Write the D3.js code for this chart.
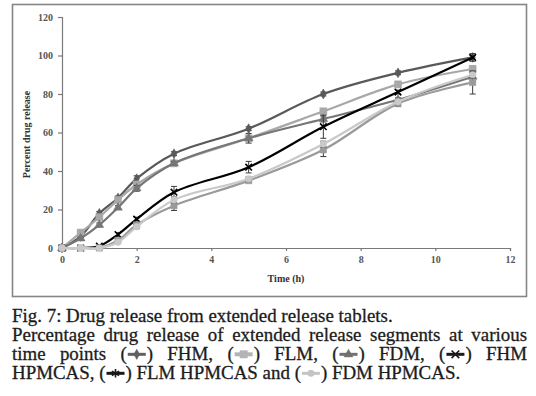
<!DOCTYPE html>
<html>
<head>
<meta charset="utf-8">
<script src="https://cdn.jsdelivr.net/npm/d3@7"></script>
<style>
  html, body { margin: 0; padding: 0; background: #fff; }
  svg { display: block; }
</style>
</head>
<body>
<svg id="chart" width="536" height="396"></svg>
<script>
// ---- data ----
const TIME = [0, 0.5, 1, 1.5, 2, 3, 5, 7, 9, 11];

const FHM        = [0, 6, 18, 26, 36, 49, 62, 80, 91, 99];
const FLM        = [0, 8, 16, 25, 33, 44, 57, 71, 85, 93];
const FDM        = [0, 5, 12, 21, 31, 44, 57, 67, 77, 89];
const FHM_HPMCAS = [0, 0, 1, 7, 15, 29, 42, 63, 81, 99];
const FLM_HPMCAS = [0, 0, 0, 4, 12, 22, 35, 51, 75, 86];
const FDM_HPMCAS = [0, 0, 0, 3, 11, 25, 36, 54, 76, 90];

const FHM_ERR        = [0, 0.5, 1, 1, 1.5, 1, 1, 1, 1, 1];
const FLM_ERR        = [0, 0.5, 1, 1, 1.5, 1, 1, 1, 1, 1.5];
const FDM_ERR        = [0, 0.5, 1, 1, 1.5, 1, 2.5, 1.5, 1, 2];
const FHM_HPMCAS_ERR = [0, 0, 0.5, 1, 1, 3, 3, 6, 1, 2];
const FLM_HPMCAS_ERR = [0, 0, 0, 0.5, 1, 2.5, 1, 3.5, 1.5, 6];
const FDM_HPMCAS_ERR = [0, 0, 0, 0.5, 1, 1.5, 1, 1.5, 1, 1.5];

const SERIES_NAMES = ['FHM', 'FLM', 'FDM', 'FHM HPMCAS', 'FLM HPMCAS', 'FDM HPMCAS'];

const X_TICKS = [0, 2, 4, 6, 8, 10, 12];
const Y_TICKS = [0, 20, 40, 60, 80, 100, 120];

const X_TITLE = 'Time (h)';
const Y_TITLE = 'Percent drug release';

const CAPTION = [
  'Fig. 7: Drug release from extended release tablets.',
  'Percentage drug release of extended release segments at various',
  'time points ({0}) FHM, ({1}) FLM, ({2}) FDM, ({3}) FHM',
  'HPMCAS, ({4}) FLM HPMCAS and ({5}) FDM HPMCAS.'
];

// ---- styles ----
const STYLE = [
  { color: '#595959', sym: d3.symbolDiamond,  size: 28, fill: true },
  { color: '#a8a8a8', sym: d3.symbolSquare,   size: 50, fill: true },
  { color: '#767676', sym: d3.symbolTriangle, size: 34, fill: true },
  { color: '#000000', sym: d3.symbolX,        size: 30, fill: false },
  { color: '#9a9a9a', sym: d3.symbolSquare,   size: 40, fill: true },
  { color: '#c9c9c9', sym: d3.symbolCircle,   size: 34, fill: true }
];
// the caption key is drawn the way the printed legend shows it
const KEY_STYLE = [
  { color: '#606060', sym: d3.symbolDiamond,  size: 30, fill: true },
  { color: '#b4b4b4', sym: d3.symbolSquare,   size: 55, fill: true },
  { color: '#707070', sym: d3.symbolTriangle, size: 34, fill: true },
  { color: '#1a1a1a', sym: d3.symbolX,        size: 40, fill: false },
  { color: '#1a1a1a', sym: d3.symbolAsterisk, size: 50, fill: false },
  { color: '#c4c4c4', sym: d3.symbolCircle,   size: 34, fill: true }
];

const values = [FHM, FLM, FDM, FHM_HPMCAS, FLM_HPMCAS, FDM_HPMCAS];
const errors = [FHM_ERR, FLM_ERR, FDM_ERR, FHM_HPMCAS_ERR, FLM_HPMCAS_ERR, FDM_HPMCAS_ERR];
const series = SERIES_NAMES.map((name, i) => ({
  name,
  style: STYLE[i],
  points: TIME.map((t, j) => ({ t, v: values[i][j], e: errors[i][j] }))
}));

// ---- layout ----
const svg = d3.select('#chart');
const SERIF = "'Liberation Serif', 'Times New Roman', serif";
const plot = { left: 62, right: 510, top: 17, bottom: 248 };

svg.append('rect')
  .attr('x', 12.5).attr('y', 4.5)
  .attr('width', 514).attr('height', 292)
  .attr('fill', 'none')
  .attr('stroke', '#858585')
  .attr('stroke-width', 1.6);

const x = d3.scaleLinear().domain([0, 12]).range([plot.left, plot.right]);
const y = d3.scaleLinear().domain([0, 120]).range([plot.bottom, plot.top]);

// ---- axes ----
const xAxis = svg.append('g')
  .attr('transform', `translate(0,${plot.bottom})`)
  .call(d3.axisBottom(x).tickValues(X_TICKS).tickSize(3).tickSizeOuter(3).tickPadding(5));
const yAxis = svg.append('g')
  .attr('transform', `translate(${plot.left},0)`)
  .call(d3.axisLeft(y).tickValues(Y_TICKS).tickSize(4).tickSizeOuter(4).tickPadding(5));

[xAxis, yAxis].forEach(ax => {
  ax.select('.domain').attr('stroke', '#7a7a7a').attr('stroke-width', 1.2);
  ax.selectAll('.tick line').attr('stroke', '#7a7a7a').attr('stroke-width', 1.2);
  ax.selectAll('.tick text')
    .attr('font-family', SERIF)
    .attr('font-size', 10)
    .attr('font-weight', 'bold')
    .attr('fill', '#555');
});

svg.append('text')
  .attr('x', (plot.left + plot.right) / 2)
  .attr('y', 282)
  .attr('text-anchor', 'middle')
  .attr('font-family', SERIF)
  .attr('font-size', 10)
  .attr('font-weight', 'bold')
  .attr('fill', '#333')
  .text(X_TITLE);

svg.append('text')
  .attr('transform', `translate(30,${(plot.top + plot.bottom) / 2 + 2}) rotate(-90)`)
  .attr('text-anchor', 'middle')
  .attr('font-family', SERIF)
  .attr('font-size', 10)
  .attr('font-weight', 'bold')
  .attr('fill', '#333')
  .text(Y_TITLE);

// ---- series ----
const line = d3.line()
  .x(d => x(d.t))
  .y(d => y(d.v))
  .curve(d3.curveCatmullRom.alpha(0.5));

const drawSymbol = (sel, st) => {
  sel.attr('d', d3.symbol().type(st.sym).size(st.size))
    .attr('fill', st.fill ? st.color : 'none')
    .attr('stroke', st.color)
    .attr('stroke-width', st.fill ? 0.5 : 1.6);
};

series.forEach(s => {
  const g = svg.append('g');
  const eb = s.points.filter(p => p.e > 0);
  const errG = g.selectAll('g.err').data(eb).join('g')
    .attr('stroke', '#3a3a3a').attr('stroke-width', 1);
  errG.append('line')
    .attr('x1', d => x(d.t)).attr('x2', d => x(d.t))
    .attr('y1', d => y(d.v - d.e)).attr('y2', d => y(d.v + d.e));
  errG.append('line')
    .attr('x1', d => x(d.t) - 3).attr('x2', d => x(d.t) + 3)
    .attr('y1', d => y(d.v - d.e)).attr('y2', d => y(d.v - d.e));
  errG.append('line')
    .attr('x1', d => x(d.t) - 3).attr('x2', d => x(d.t) + 3)
    .attr('y1', d => y(d.v + d.e)).attr('y2', d => y(d.v + d.e));

  g.append('path')
    .datum(s.points)
    .attr('fill', 'none')
    .attr('stroke', s.style.color)
    .attr('stroke-width', 2.2)
    .attr('d', line);

  g.selectAll('path.mk').data(s.points).join('path')
    .attr('class', 'mk')
    .attr('transform', d => `translate(${x(d.t)},${y(d.v)})`)
    .call(drawSymbol, s.style);
});

// ---- caption ----
const CAP_LEFT = 12, CAP_RIGHT = 527;
const CAP_BASE = [322, 341, 360, 379];
const JUSTIFY = [false, true, true, false];
const SYM_W = 20;

const cap = svg.append('g')
  .attr('font-family', SERIF)
  .attr('fill', '#1c1c1c')
  .attr('stroke', '#1c1c1c')
  .attr('stroke-width', 0.3);

// size the caption so the first line spans what it does in the figure
const probe = cap.append('text').attr('font-size', 16).text(CAPTION[0]);
const capSize = 16 * 381 / probe.node().getComputedTextLength();
probe.remove();
cap.attr('font-size', capSize);

function drawKey(parent, cx, cy, st) {
  parent.append('line')
    .attr('x1', cx - SYM_W / 2 + 1).attr('x2', cx + SYM_W / 2 - 1)
    .attr('y1', cy).attr('y2', cy)
    .attr('stroke', st.color)
    .attr('stroke-width', st.color === '#b4b4b4' ? 4 : 3);
  parent.append('path')
    .attr('transform', `translate(${cx},${cy})`)
    .call(drawSymbol, st);
}

CAPTION.forEach((txt, li) => {
  const words = txt.split(' ').map(w => w.split(/(\{\d\})/).filter(p => p !== ''));
  const row = cap.append('g');
  const placed = words.map(parts => {
    const wg = row.append('g');
    let w = 0;
    parts.forEach(p => {
      const m = p.match(/^\{(\d)\}$/);
      if (m) {
        const kg = wg.append('g').attr('stroke-width', null);
        drawKey(kg, w + SYM_W / 2, -capSize * 0.3, KEY_STYLE[+m[1]]);
        w += SYM_W;
      } else {
        const t = wg.append('text').attr('x', w).text(p);
        w += t.node().getComputedTextLength();
      }
    });
    return { wg, w };
  });
  const spaceProbe = row.append('text').text('a a');
  const aProbe = row.append('text').text('aa');
  const space = spaceProbe.node().getComputedTextLength() - aProbe.node().getComputedTextLength();
  spaceProbe.remove(); aProbe.remove();

  const total = d3.sum(placed, p => p.w);
  const gap = JUSTIFY[li] ? (CAP_RIGHT - CAP_LEFT - total) / (placed.length - 1) : space;
  let cx = CAP_LEFT;
  placed.forEach(p => {
    p.wg.attr('transform', `translate(${cx},${CAP_BASE[li]})`);
    cx += p.w + gap;
  });
});
</script>
</body>
</html>
